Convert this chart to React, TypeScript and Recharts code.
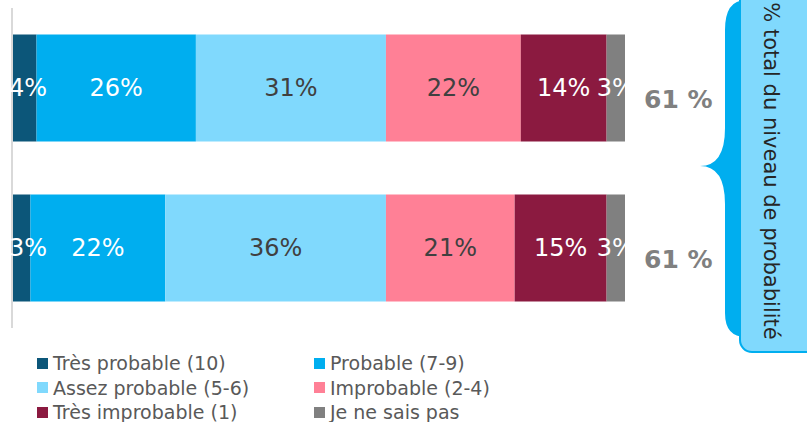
import { Bar, BarChart, LabelList, XAxis, YAxis } from "recharts"

const rows = ["Ligne 1", "Ligne 2"]
const tresProbable = [4, 3]
const probable = [26, 22]
const assezProbable = [31, 36]
const improbable = [22, 21]
const tresImprobable = [14, 15]
const neSaisPas = [3, 3]
const totals = [61, 61]

const series = [
  { key: "tp", name: "Très probable (10)", color: "#0c5679", text: "#ffffff", values: tresProbable },
  { key: "p", name: "Probable (7-9)", color: "#00aeef", text: "#ffffff", values: probable },
  { key: "ap", name: "Assez probable (5-6)", color: "#80d9fd", text: "#404040", values: assezProbable },
  { key: "ip", name: "Improbable (2-4)", color: "#ff8096", text: "#404040", values: improbable },
  { key: "tip", name: "Très improbable (1)", color: "#8b1a40", text: "#ffffff", values: tresImprobable },
  { key: "ns", name: "Je ne sais pas", color: "#808080", text: "#ffffff", values: neSaisPas },
]

const data = rows.map((row, i) => {
  const d: Record<string, string | number> = { row, total: totals[i] }
  series.forEach((s) => (d[s.key] = s.values[i]))
  return d
})

const FONT = "DejaVu Sans"

// rough text width for digits + "%"
const textWidth = (s: string, size: number) =>
  s.split("").reduce((w, c) => w + (c === "%" ? 0.95 : 0.636), 0) * size

function segLabel(color: string, clampLeft: boolean) {
  return (props: any) => {
    const { x, y, width, height, value } = props
    const label = `${value}%`
    let cx = x + width / 2
    if (clampLeft) cx = Math.max(cx, x - 3 + textWidth(label, 24) / 2)
    return (
      <text
        x={cx}
        y={y + height / 2}
        fill={color}
        fontSize={24}
        fontFamily={FONT}
        textAnchor="middle"
        dominantBaseline="central"
      >
        {label}
      </text>
    )
  }
}

const totalLabel = (props: any) => {
  const { x, y, width, height, value } = props
  return (
    <text
      x={x + width + 19}
      y={y + height / 2 + 12}
      fill="#808080"
      fontSize={25}
      fontWeight="bold"
      fontFamily={FONT}
      dominantBaseline="central"
    >
      {`${value} %`}
    </text>
  )
}

function Callout() {
  return (
    <svg
      width={807}
      height={422}
      style={{ position: "absolute", left: 0, top: 0, pointerEvents: "none" }}
    >
      <path
        d="M 746 0 Q 725 0 725 30 L 725 128 Q 725 166 700 166 Q 725 166 725 204 L 725 313 Q 725 337 746 337 Z"
        fill="#00aeef"
      />
      <rect x={740} y={-14} width={80} height={366} rx={12} fill="#80d9fd" stroke="#00aeef" strokeWidth={2} />
      <text
        transform="translate(771,171) rotate(90)"
        textAnchor="middle"
        dominantBaseline="central"
        fontSize={21}
        fontFamily={FONT}
        fill="#262626"
      >
        % total du niveau de probabilité
      </text>
    </svg>
  )
}

function LegendBlock() {
  return (
    <div
      style={{
        position: "absolute",
        left: 37,
        top: 351,
        display: "grid",
        gridTemplateColumns: "277px 260px",
        fontFamily: FONT,
        fontSize: 19,
        color: "#595959",
        lineHeight: "24.5px",
      }}
    >
      {series.map((s) => (
        <div key={s.key} style={{ display: "flex", alignItems: "center", whiteSpace: "nowrap" }}>
          <span style={{ width: 11, height: 11, background: s.color, marginRight: 5, display: "inline-block" }} />
          {s.name}
        </div>
      ))}
    </div>
  )
}

export default function App() {
  return (
    <div style={{ position: "absolute", left: 0, top: 0, width: 807, height: 422, background: "#fff", overflow: "hidden" }}>
      <BarChart
        width={807}
        height={422}
        data={data}
        layout="vertical"
        margin={{ top: 8, right: 182, bottom: 94, left: 10 }}
        barCategoryGap="16.5%"
      >
        <XAxis type="number" domain={[0, 100]} hide />
        <YAxis
          type="category"
          dataKey="row"
          width={2}
          tick={false}
          tickLine={false}
          axisLine={{ stroke: "#d9d9d9", strokeWidth: 2 }}
        />
        {series.map((s, i) => (
          <Bar key={s.key} dataKey={s.key} name={s.name} stackId="a" fill={s.color} isAnimationActive={false}>
            <LabelList dataKey={s.key} content={segLabel(s.text, i === 0)} />
            {i === series.length - 1 && <LabelList dataKey="total" content={totalLabel} />}
          </Bar>
        ))}
      </BarChart>
      <Callout />
      <LegendBlock />
    </div>
  )
}
